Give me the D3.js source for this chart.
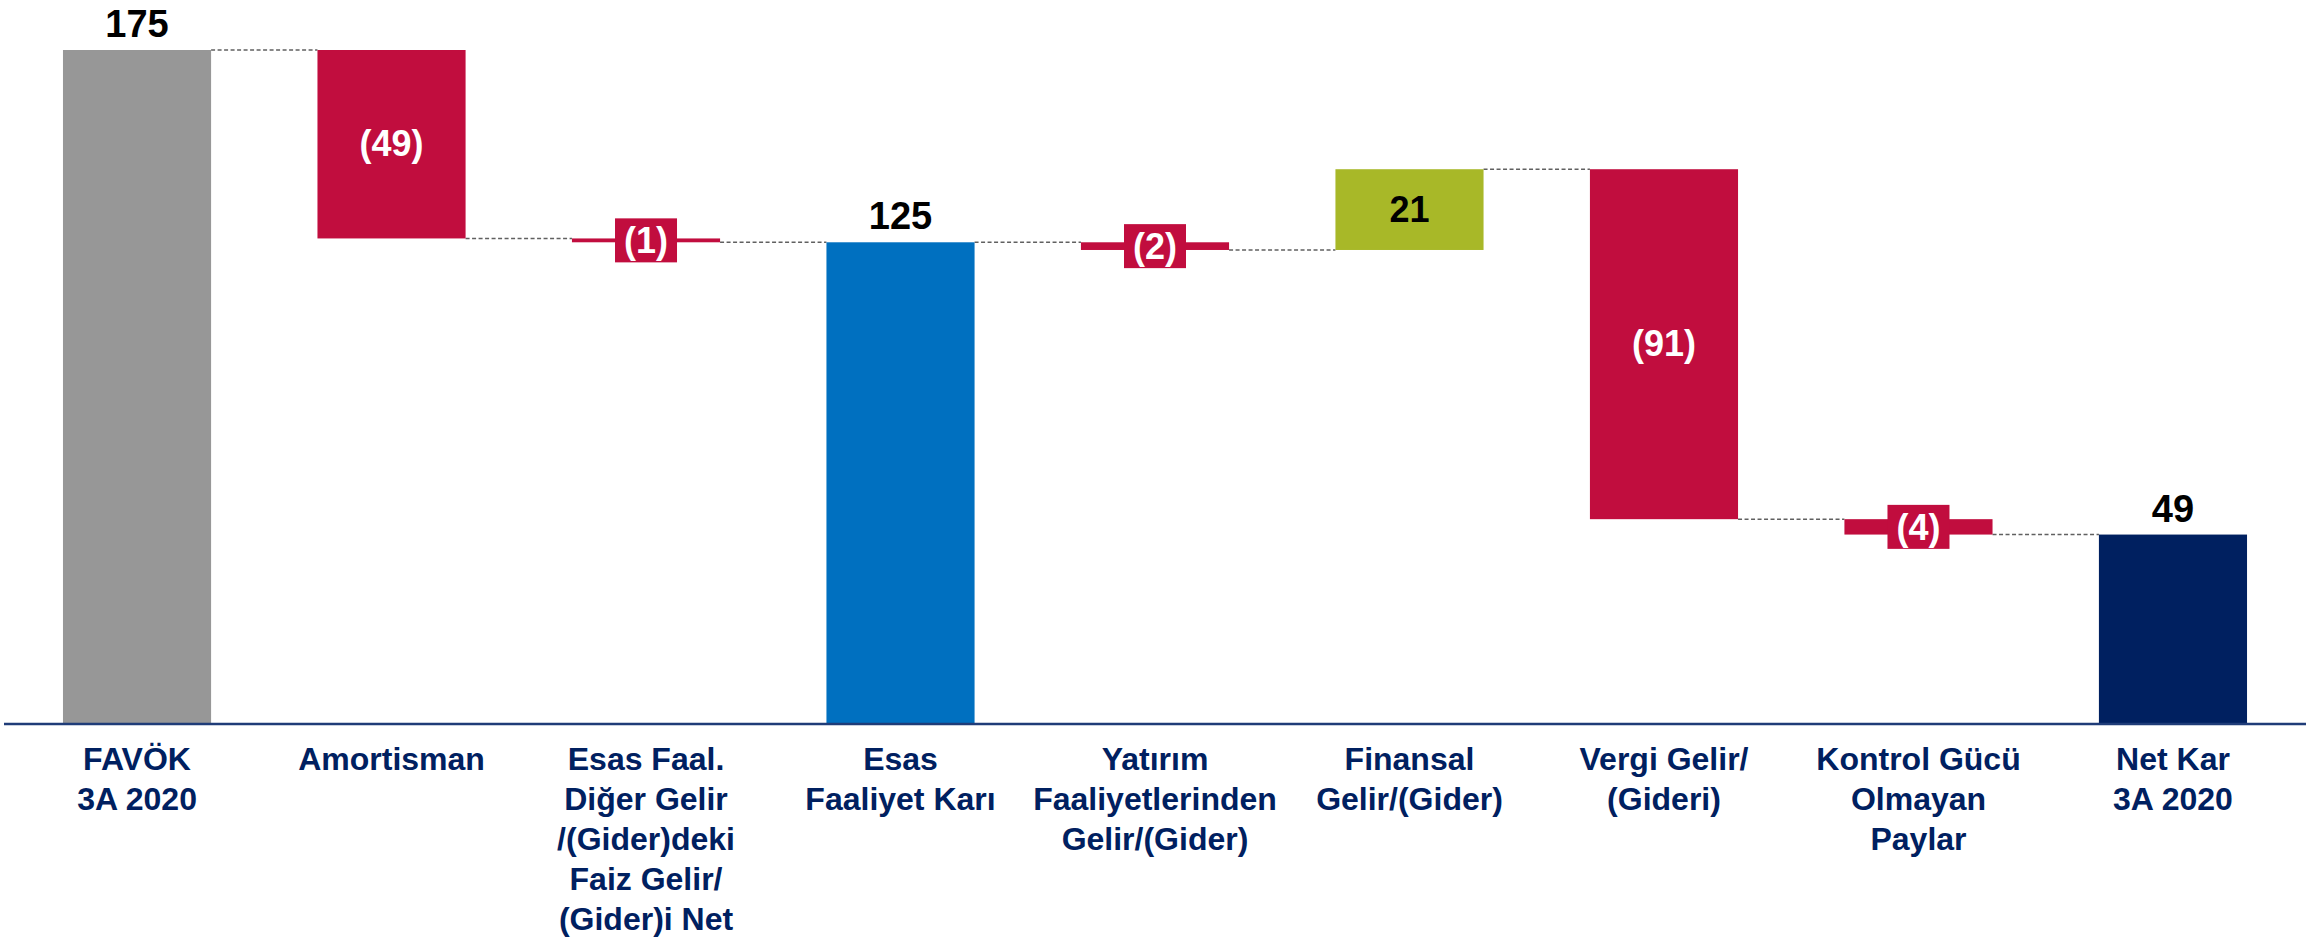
<!DOCTYPE html>
<html>
<head>
<meta charset="utf-8">
<script src="https://cdn.jsdelivr.net/npm/d3@7"></script>
<style>
  html, body { margin: 0; padding: 0; background: #fff; }
  svg { display: block; font-family: "Liberation Sans", Arial, sans-serif; }
</style>
</head>
<body>
<svg id="chart" width="2310" height="946"></svg>
<script>
// data
var categories = ["FAVÖK 3A 2020", "Amortisman", "Esas Faal. Diğer Gelir", "Esas Faaliyet Karı",
    "Yatırım Faaliyetlerinden", "Finansal Gelir/(Gider)", "Vergi Gelir/(Gideri)",
    "Kontrol Gücü Olmayan Paylar", "Net Kar 3A 2020"]
var labelLines = [
    ["FAVÖK", "3A 2020"],
    ["Amortisman"],
    ["Esas Faal.", "Diğer Gelir", "/(Gider)deki", "Faiz Gelir/", "(Gider)i Net"],
    ["Esas", "Faaliyet Karı"],
    ["Yatırım", "Faaliyetlerinden", "Gelir/(Gider)"],
    ["Finansal", "Gelir/(Gider)"],
    ["Vergi Gelir/", "(Gideri)"],
    ["Kontrol Gücü", "Olmayan", "Paylar"],
    ["Net Kar", "3A 2020"]
]
var values = [175, -49, -1, 125, -2, 21, -91, -4, 49]
var isTotal = [true, false, false, true, false, false, false, false, true]
var totalColors = ["#979797", null, null, "#0070C0", null, null, null, null, "#002060"]

var red = "#C10D3E", green = "#A8B828", navy = "#002060"

var svg = d3.select("#chart")

var x = d3.scaleBand()
    .domain(d3.range(categories.length))
    .range([8, 2302])
    .paddingInner(0.418)
    .paddingOuter(0.216)

var y = d3.scaleLinear()
    .domain([0, 175])
    .range([723, 50])

// running totals
var rows = []
var run = 0
values.forEach(function(v, i) {
    var start, end
    if (isTotal[i]) { start = 0; end = v; run = v }
    else { start = run; end = run + v; run = end }
    rows.push({i: i, v: v, start: start, end: end,
               color: isTotal[i] ? totalColors[i] : (v < 0 ? red : green)})
})

// connectors
var conn = svg.append("g").attr("id", "connectors")
rows.slice(0, -1).forEach(function(d, k) {
    conn.append("line")
        .attr("x1", x(d.i) + x.bandwidth())
        .attr("x2", x(d.i + 1))
        .attr("y1", y(d.end))
        .attr("y2", y(d.end))
        .attr("stroke", "#606060")
        .attr("stroke-width", 1.5)
        .attr("stroke-dasharray", "4,2.5")
})

// bars
svg.append("g").attr("id", "bars")
    .selectAll("rect")
    .data(rows)
    .enter()
    .append("rect")
    .attr("x", function(d) { return x(d.i) })
    .attr("y", function(d) { return y(Math.max(d.start, d.end)) })
    .attr("width", x.bandwidth())
    .attr("height", function(d) { return Math.abs(y(d.start) - y(d.end)) })
    .attr("fill", function(d) { return d.color })

// axis line
svg.append("line")
    .attr("x1", 4).attr("x2", 2306)
    .attr("y1", y(0) + 1).attr("y2", y(0) + 1)
    .attr("stroke", "#1F3C78")
    .attr("stroke-width", 2.5)

// value labels
var fmt = function(v) { return v < 0 ? "(" + Math.abs(v) + ")" : String(v) }
var lab = svg.append("g").attr("id", "valueLabels")
rows.forEach(function(d) {
    var cx = x(d.i) + x.bandwidth() / 2
    var hgt = Math.abs(y(d.start) - y(d.end))
    var mid = (y(d.start) + y(d.end)) / 2
    if (isTotal[d.i]) {
        lab.append("text")
            .attr("x", cx).attr("y", y(d.end) - 13)
            .attr("text-anchor", "middle")
            .attr("font-size", 38).attr("font-weight", "bold")
            .attr("fill", "#000")
            .text(fmt(d.v))
    } else if (hgt < 50) {
        lab.append("rect")
            .attr("x", cx - 31).attr("y", mid - 22)
            .attr("width", 62).attr("height", 44)
            .attr("fill", d.color)
        lab.append("text")
            .attr("x", cx).attr("y", mid + 13)
            .attr("text-anchor", "middle")
            .attr("font-size", 36).attr("font-weight", "bold")
            .attr("fill", "#fff")
            .text(fmt(d.v))
    } else {
        lab.append("text")
            .attr("x", cx).attr("y", mid + 12)
            .attr("text-anchor", "middle")
            .attr("font-size", 36).attr("font-weight", "bold")
            .attr("fill", d.v < 0 ? "#fff" : "#000")
            .text(fmt(d.v))
    }
})

// category labels
var cat = svg.append("g").attr("id", "categoryLabels")
labelLines.forEach(function(lines, i) {
    var t = cat.append("text")
        .attr("x", x(i) + x.bandwidth() / 2)
        .attr("y", 770)
        .attr("text-anchor", "middle")
        .attr("font-size", 32).attr("font-weight", "bold")
        .attr("fill", navy)
    lines.forEach(function(s, k) {
        t.append("tspan")
            .attr("x", x(i) + x.bandwidth() / 2)
            .attr("dy", k == 0 ? 0 : 40)
            .text(s)
    })
})
</script>
</body>
</html>
